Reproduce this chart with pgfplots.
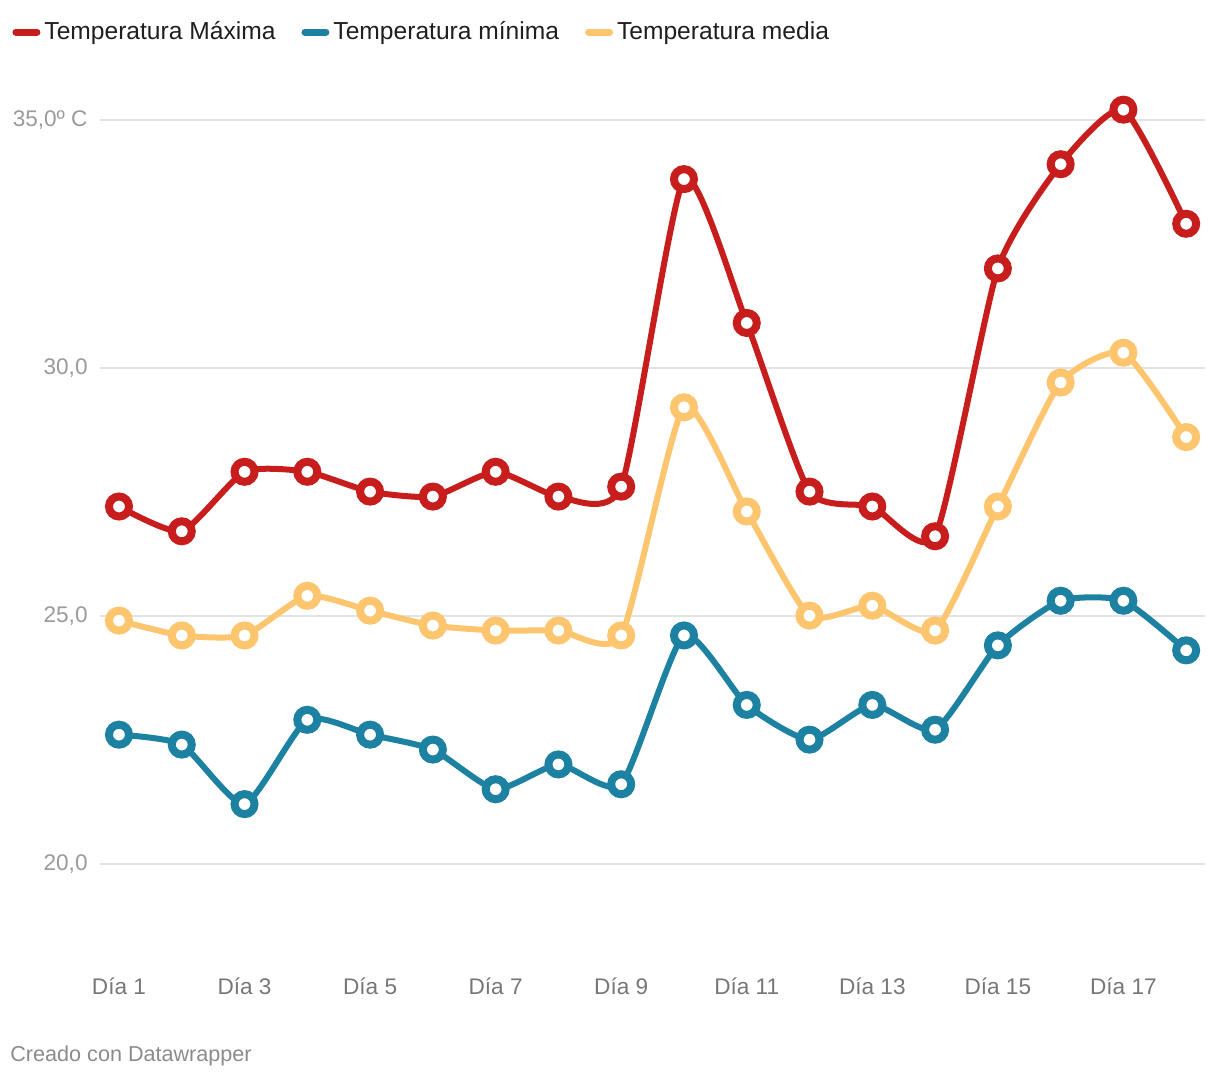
\documentclass[border=0pt]{standalone}
\usepackage{fontspec}
\setmainfont{Liberation Sans}
\usepackage{pgfplots}
\pgfplotsset{compat=1.18}
\definecolor{cmax}{HTML}{C71E1D}
\definecolor{cmin}{HTML}{1D81A2}
\definecolor{cmed}{HTML}{FEC56F}
\definecolor{gridc}{HTML}{E3E3E3}
\definecolor{ylab}{HTML}{9A9A9A}
\definecolor{xlab}{HTML}{777777}
\begin{document}
\begin{tikzpicture}
\path[use as bounding box] (0,0) rectangle (610pt,539pt);
\begin{axis}[
  at={(50pt,67.5pt)}, anchor=south west,
  scale only axis, width=552.5pt, height=436.5pt,
  xmin=0.6975, xmax=18.30, ymin=18.4, ymax=36,
  clip=false,
  axis line style={draw=none},
  major tick style={draw=none},
  ytick={20,25,30,35},
  yticklabels={20{,}0,25{,}0,30{,}0,35{,}0º C},
  xtick={1,3,5,7,9,11,13,15,17},
  xticklabels={Día 1,Día 3,Día 5,Día 7,Día 9,Día 11,Día 13,Día 15,Día 17},
  /pgf/number format/assume math mode=true,
  ymajorgrids, grid style={gridc, line width=0.9pt},
  yticklabel style={anchor=east, inner sep=0pt, xshift=-6pt, text=ylab, font=\fontsize{11.3}{13}\selectfont},
  xticklabel style={anchor=north, inner sep=0pt, yshift=-17pt, text=xlab, font=\fontsize{11.3}{13}\selectfont},
  legend columns=3,
  legend style={at={(-0.0796,1.0435)}, anchor=west, draw=none, fill=none, inner sep=0pt,
    font=\fontsize{12.3}{14}\selectfont, text=black!88,
    /tikz/every even column/.append style={column sep=11pt}},
  legend image code/.code={\draw[line width=3.5pt, line cap=round] (1.75pt,0pt) -- (12.25pt,0pt);},
  every axis plot/.append style={line width=3pt, smooth, tension=0.35, mark=*, mark size=5pt},
]
\addplot[cmax, mark options={fill=white, draw=cmax, line width=4pt}] coordinates {
(1,27.2)(2,26.7)(3,27.9)(4,27.9)(5,27.5)(6,27.4)(7,27.9)(8,27.4)(9,27.6)
(10,33.8)(11,30.9)(12,27.5)(13,27.2)(14,26.6)(15,32.0)(16,34.1)(17,35.2)(18,32.9)};
\addlegendentry{Temperatura Máxima}
\addplot[cmin, mark options={fill=white, draw=cmin, line width=4pt}] coordinates {
(1,22.6)(2,22.4)(3,21.2)(4,22.9)(5,22.6)(6,22.3)(7,21.5)(8,22.0)(9,21.6)
(10,24.6)(11,23.2)(12,22.5)(13,23.2)(14,22.7)(15,24.4)(16,25.3)(17,25.3)(18,24.3)};
\addlegendentry{Temperatura mínima}
\addplot[cmed, mark options={fill=white, draw=cmed, line width=4pt}] coordinates {
(1,24.9)(2,24.6)(3,24.6)(4,25.4)(5,25.1)(6,24.8)(7,24.7)(8,24.7)(9,24.6)
(10,29.2)(11,27.1)(12,25.0)(13,25.2)(14,24.7)(15,27.2)(16,29.7)(17,30.3)(18,28.6)};
\addlegendentry{Temperatura media}
\end{axis}
\node[anchor=west, inner sep=0pt, text=xlab!85, font=\fontsize{10.8}{12}\selectfont] at (5pt,11pt) {Creado con Datawrapper};
\end{tikzpicture}
\end{document}
